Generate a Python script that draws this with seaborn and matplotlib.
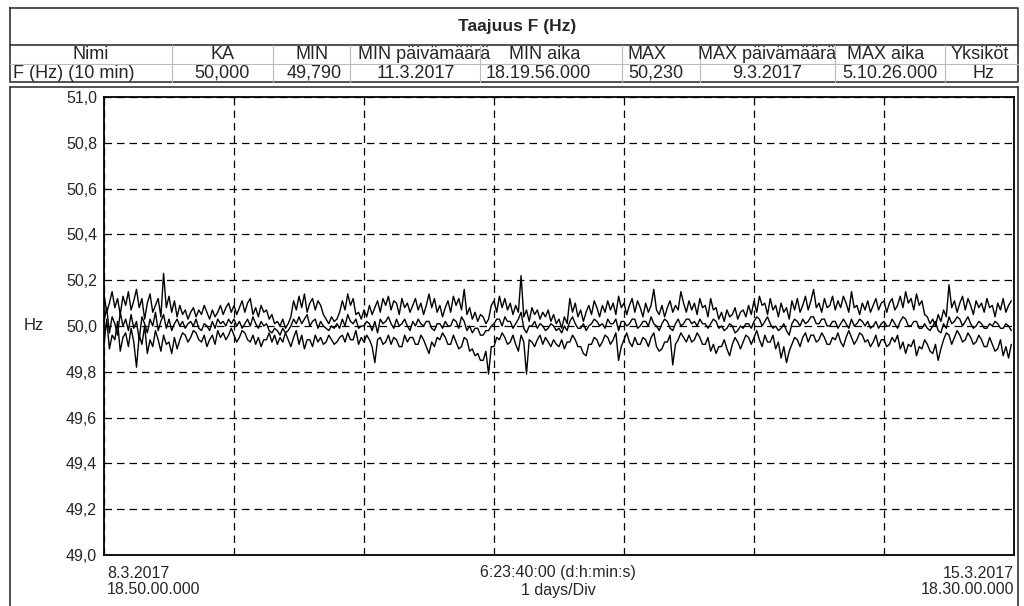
import numpy as np
import pandas as pd
import matplotlib
matplotlib.use("Agg")
import matplotlib.pyplot as plt
import seaborn as sns

# ---------------- data ----------------
title = "Taajuus F (Hz)"
table_headers = ["Nimi", "KA", "MIN", "MIN päivämäärä", "MIN aika", "MAX",
                 "MAX päivämäärä", "MAX aika", "Yksiköt"]
table_values = ["F (Hz) (10 min)", "50,000", "49,790", "11.3.2017", "18.19.56.000",
                "50,230", "9.3.2017", "5.10.26.000", "Hz"]

y_ticks = [49.0, 49.2, 49.4, 49.6, 49.8, 50.0, 50.2, 50.4, 50.6, 50.8, 51.0]
y_tick_labels = ["49,0", "49,2", "49,4", "49,6", "49,8", "50,0", "50,2", "50,4", "50,6", "50,8", "51,0"]
x_left_labels = ["8.3.2017", "18.50.00.000"]
x_mid_labels = ["6:23:40:00 (d:h:min:s)", "1 days/Div"]
x_right_labels = ["15.3.2017", "18.30.00.000"]
y_label = "Hz"

# half-hourly readings (Hz) from start 8.3.2017 18:50, three traces
f_a = [
    50.14, 50.06, 50.10, 50.15, 50.08, 50.12, 50.05, 50.13, 50.09, 50.15, 50.07, 50.11, 50.16, 50.08, 50.12, 50.03, 50.10, 50.14, 50.06, 50.09, 50.12, 50.04, 50.23, 50.08,
    50.13, 50.06, 50.11, 50.04, 50.09, 50.05, 50.07, 50.03, 50.06, 50.08, 50.04, 50.07, 50.05, 50.09, 50.06, 50.03, 50.07, 50.04, 50.06, 50.09, 50.05, 50.08, 50.10, 50.06,
    50.09, 50.05, 50.08, 50.11, 50.06, 50.10, 50.12, 50.05, 50.08, 50.04, 50.09, 50.06, 50.07, 50.03, 50.05, 50.01, 50.02, 50.00, 50.03, 49.99, 50.01, 50.04, 50.11, 50.07,
    50.13, 50.08, 50.14, 50.06, 50.10, 50.12, 50.07, 50.11, 50.09, 50.05, 50.03, 50.01, 50.04, 50.02, 50.03, 50.06, 50.11, 50.07, 50.14, 50.09, 50.12, 50.05, 50.06, 50.03,
    50.07, 50.04, 50.09, 50.05, 50.08, 50.11, 50.06, 50.12, 50.09, 50.13, 50.07, 50.11, 50.10, 50.05, 50.12, 50.08, 50.10, 50.06, 50.09, 50.12, 50.07, 50.10, 50.05, 50.09,
    50.14, 50.08, 50.12, 50.06, 50.09, 50.04, 50.08, 50.11, 50.06, 50.13, 50.09, 50.12, 50.07, 50.16, 50.05, 50.08, 50.03, 50.06, 50.02, 50.05, 50.04, 50.01, 50.03, 50.09,
    50.11, 50.06, 50.13, 50.08, 50.12, 50.07, 50.10, 50.05, 50.09, 50.06, 50.22, 50.04, 50.07, 50.02, 50.08, 50.05, 50.07, 50.03, 50.06, 50.04, 50.07, 50.02, 50.05, 50.01,
    50.03, 49.99, 50.04, 50.01, 50.12, 50.06, 50.10, 50.04, 50.07, 50.02, 50.06, 50.09, 50.05, 50.11, 50.08, 50.04, 50.09, 50.06, 50.11, 50.07, 50.10, 50.05, 50.13, 50.08,
    50.10, 50.05, 50.09, 50.12, 50.06, 50.11, 50.08, 50.04, 50.10, 50.06, 50.09, 50.16, 50.07, 50.05, 50.09, 50.04, 50.08, 50.11, 50.06, 50.09, 50.07, 50.15, 50.10, 50.06,
    50.11, 50.07, 50.10, 50.05, 50.12, 50.08, 50.09, 50.04, 50.12, 50.07, 50.08, 50.03, 50.06, 50.02, 50.07, 50.04, 50.05, 50.08, 50.03, 50.06, 50.07, 50.04, 50.09, 50.05,
    50.11, 50.06, 50.13, 50.09, 50.10, 50.05, 50.12, 50.07, 50.09, 50.04, 50.10, 50.06, 50.08, 50.03, 50.11, 50.07, 50.12, 50.06, 50.09, 50.13, 50.07, 50.11, 50.16, 50.08,
    50.10, 50.06, 50.12, 50.08, 50.09, 50.13, 50.07, 50.11, 50.08, 50.13, 50.10, 50.06, 50.15, 50.08, 50.09, 50.05, 50.10, 50.07, 50.11, 50.06, 50.09, 50.12, 50.07, 50.10,
    50.11, 50.06, 50.10, 50.12, 50.07, 50.09, 50.13, 50.08, 50.15, 50.10, 50.12, 50.07, 50.14, 50.09, 50.11, 50.05, 50.04, 50.01, 50.03, 50.00, 50.05, 50.02, 50.07, 50.04,
    50.18, 50.08, 50.11, 50.06, 50.10, 50.13, 50.07, 50.12, 50.09, 50.05, 50.11, 50.08, 50.10, 50.06, 50.12, 50.08, 50.09, 50.04, 50.10, 50.07, 50.12, 50.06, 50.09, 50.11,
]
f_b = [
    50.02, 50.08, 49.97, 50.04, 50.01, 49.96, 50.06, 50.00, 50.03, 49.98, 50.05, 49.99, 50.02, 49.94, 50.04, 50.01, 49.97, 50.03, 50.00, 50.06, 49.98, 50.02, 50.05, 49.99,
    50.03, 49.98, 50.01, 50.03, 50.00, 50.02, 49.99, 50.01, 50.02, 50.00, 50.03, 49.99, 49.98, 50.01, 50.00, 49.98, 50.02, 49.99, 50.03, 50.01, 50.02, 50.00, 50.03, 50.01,
    50.03, 50.00, 50.02, 49.99, 50.01, 50.03, 50.00, 50.04, 50.01, 49.99, 50.02, 50.00, 50.01, 49.98, 49.97, 49.99, 49.98, 49.96, 49.99, 49.97, 49.98, 50.00, 50.03, 50.01,
    50.04, 50.01, 50.03, 50.05, 50.00, 50.02, 50.03, 49.99, 50.02, 50.00, 49.99, 49.98, 50.00, 49.99, 50.01, 49.99, 50.03, 50.00, 50.05, 50.02, 50.01, 50.03, 49.99, 50.00,
    50.00, 50.02, 50.01, 49.98, 50.02, 49.97, 50.03, 50.01, 50.02, 50.04, 50.01, 49.99, 50.03, 50.00, 50.01, 50.03, 50.00, 49.98, 50.02, 50.00, 50.03, 50.01, 50.00, 50.02,
    50.02, 49.99, 49.98, 50.01, 50.01, 49.99, 50.02, 50.00, 50.00, 50.03, 50.02, 49.99, 50.04, 50.02, 49.98, 50.00, 49.97, 49.99, 49.99, 49.96, 49.96, 49.98, 49.98, 50.00,
    50.01, 50.03, 50.03, 50.00, 50.04, 50.02, 50.02, 49.99, 50.01, 50.03, 50.06, 49.99, 49.97, 50.00, 50.00, 50.02, 49.99, 50.01, 50.00, 49.98, 49.99, 50.01, 50.00, 49.98,
    49.99, 49.97, 50.00, 49.98, 50.02, 50.04, 50.01, 49.99, 49.99, 50.01, 49.98, 50.00, 50.01, 50.03, 50.02, 50.00, 50.01, 49.99, 50.03, 50.01, 50.01, 50.03, 49.98, 50.02,
    50.02, 50.00, 50.01, 50.03, 50.03, 49.99, 50.00, 50.02, 50.02, 50.00, 50.04, 50.01, 50.00, 49.98, 50.01, 50.03, 50.02, 49.99, 49.98, 50.01, 50.03, 50.00, 50.01, 50.03,
    50.03, 50.01, 50.02, 50.00, 50.03, 50.01, 50.01, 49.99, 50.01, 50.03, 50.02, 49.99, 50.00, 49.98, 49.99, 50.01, 50.00, 49.97, 49.98, 50.00, 49.99, 50.01, 50.01, 49.99,
    50.02, 50.04, 50.03, 50.00, 50.02, 50.04, 50.01, 49.99, 50.00, 49.98, 49.99, 50.01, 49.98, 49.96, 50.01, 50.03, 50.02, 50.00, 50.03, 50.01, 50.02, 50.04, 50.04, 50.01,
    50.01, 50.03, 50.03, 50.00, 50.00, 50.02, 50.02, 49.99, 50.01, 50.03, 50.01, 49.99, 50.03, 50.00, 50.01, 50.03, 50.02, 50.00, 50.02, 49.99, 50.00, 50.02, 49.99, 50.01,
    50.02, 50.00, 50.00, 50.03, 50.01, 49.99, 50.02, 50.04, 50.03, 50.00, 50.00, 50.02, 50.02, 49.99, 49.99, 50.01, 49.99, 49.98, 50.00, 50.02, 49.98, 49.97, 50.01, 49.99,
    50.04, 50.01, 50.02, 50.04, 50.03, 50.00, 50.02, 50.04, 50.01, 49.99, 50.00, 50.02, 50.01, 49.99, 49.99, 50.01, 50.00, 50.02, 50.01, 49.99, 49.99, 50.01, 50.00, 49.98,
]
f_c = [
    49.92, 50.03, 49.90, 49.96, 49.94, 50.02, 49.89, 49.95, 49.97, 49.91, 49.99, 49.93, 49.82, 49.96, 49.92, 50.00, 49.88, 49.94, 49.91, 49.98, 49.94, 49.89, 49.96, 49.92,
    49.93, 49.88, 49.95, 49.90, 49.94, 49.97, 49.96, 49.93, 49.95, 49.98, 49.97, 49.94, 49.93, 49.96, 49.91, 49.94, 49.96, 49.92, 49.98, 49.95, 49.97, 49.94, 49.96, 49.99,
    49.96, 49.93, 49.95, 49.98, 49.97, 49.94, 49.93, 49.96, 49.92, 49.95, 49.91, 49.94, 49.94, 49.97, 49.93, 49.96, 49.92, 49.95, 49.93, 49.97, 49.94, 49.91, 49.95, 49.98,
    49.92, 49.96, 49.90, 49.94, 49.94, 49.91, 49.96, 49.93, 49.95, 49.92, 49.93, 49.96, 49.94, 49.92, 49.93, 49.95, 49.96, 49.93, 49.97, 49.94, 49.94, 49.98, 49.92, 49.95,
    49.93, 49.96, 49.94, 49.91, 49.84, 49.94, 49.95, 49.92, 49.93, 49.96, 49.92, 49.95, 49.94, 49.91, 49.91, 49.96, 49.93, 49.95, 49.95, 49.92, 49.92, 49.96, 49.94, 49.91,
    49.88, 49.93, 49.91, 49.95, 49.94, 49.97, 49.95, 49.92, 49.92, 49.96, 49.93, 49.90, 49.91, 49.95, 49.94, 49.89, 49.90, 49.87, 49.88, 49.85, 49.85, 49.89, 49.79, 49.91,
    49.91, 49.95, 49.94, 49.97, 49.95, 49.92, 49.93, 49.96, 49.92, 49.89, 49.96, 49.93, 49.79, 49.94, 49.93, 49.91, 49.94, 49.96, 49.92, 49.95, 49.93, 49.91, 49.94, 49.92,
    49.91, 49.94, 49.90, 49.93, 49.93, 49.96, 49.94, 49.91, 49.91, 49.88, 49.87, 49.92, 49.92, 49.95, 49.94, 49.91, 49.93, 49.96, 49.95, 49.92, 49.94, 49.97, 49.85, 49.91,
    49.94, 49.97, 49.93, 49.91, 49.95, 49.92, 49.92, 49.95, 49.94, 49.91, 49.95, 49.97, 49.91, 49.89, 49.90, 49.93, 49.93, 49.96, 49.83, 49.92, 49.94, 49.97, 49.95, 49.93,
    49.96, 49.93, 49.94, 49.97, 49.95, 49.92, 49.92, 49.95, 49.89, 49.92, 49.88, 49.91, 49.91, 49.94, 49.90, 49.87, 49.92, 49.95, 49.93, 49.90, 49.93, 49.96, 49.95, 49.92,
    49.95, 49.98, 49.94, 49.91, 49.96, 49.93, 49.93, 49.96, 49.90, 49.93, 49.86, 49.91, 49.84, 49.89, 49.92, 49.95, 49.94, 49.91, 49.95, 49.97, 49.93, 49.96, 49.96, 49.93,
    49.94, 49.97, 49.95, 49.92, 49.92, 49.95, 49.94, 49.97, 49.93, 49.91, 49.95, 49.98, 49.95, 49.92, 49.94, 49.97, 49.96, 49.93, 49.94, 49.91, 49.93, 49.96, 49.91, 49.94,
    49.94, 49.91, 49.92, 49.95, 49.93, 49.96, 49.90, 49.93, 49.88, 49.92, 49.91, 49.94, 49.87, 49.91, 49.90, 49.94, 49.92, 49.89, 49.88, 49.92, 49.85, 49.90, 49.94, 49.97,
    49.96, 49.92, 49.95, 49.98, 49.96, 49.93, 49.94, 49.97, 49.95, 49.92, 49.93, 49.96, 49.94, 49.91, 49.91, 49.95, 49.92, 49.89, 49.90, 49.94, 49.87, 49.91, 49.86, 49.92,
]

# ---------------- figure ----------------
sns.set_style("white")
plt.rcParams["font.family"] = ["Liberation Sans", "DejaVu Sans"]

W, H = 1024, 606
fig = plt.figure(figsize=(W / 100, H / 100), dpi=100)

# background canvas in pixel coordinates for table and frame
bg = fig.add_axes([0, 0, 1, 1], zorder=0)
bg.set_xlim(0, W)
bg.set_ylim(H, 0)
bg.axis("off")

lc = "#333333"
# table frame
bg.plot([10, 1018, 1018, 10, 10], [8, 8, 82, 82, 8], color=lc, lw=1.2)
bg.plot([10, 1018], [45, 45], color=lc, lw=1.2)
bg.plot([10, 1018], [63.5, 63.5], color="#bbbbbb", lw=0.8)
for xs in [172, 273, 350, 480, 622, 700, 835, 945]:
    bg.plot([xs, xs], [45, 82], color="#bbbbbb", lw=0.8)
bg.text(517, 26.5, title, ha="center", va="center", fontsize=12.5, fontweight="bold")

hdr_x = [91, 222, 312, 424, 545, 647, 767, 886, 980]
val_x = [13, 222, 314, 416, 538, 656, 767, 890, 983]
for i, (h, v) in enumerate(zip(table_headers, table_values)):
    bg.text(hdr_x[i], 54.5, h, ha="center", va="center", fontsize=13)
    if i == 0:
        bg.text(val_x[i], 73, v, ha="left", va="center", fontsize=13)
    else:
        bg.text(val_x[i], 73, v, ha="center", va="center", fontsize=13)

# chart frame
bg.plot([10, 1018], [87, 87], color=lc, lw=1.2)
bg.plot([10, 10], [87, 606], color=lc, lw=1.2)
bg.plot([1018, 1018], [87, 606], color=lc, lw=1.2)

# ---------------- plot axes ----------------
ax_l, ax_r, ax_t, ax_b = 104, 1014, 97, 555
ax = fig.add_axes([ax_l / W, (H - ax_b) / H, (ax_r - ax_l) / W, (ax_b - ax_t) / H], zorder=1)
ax.patch.set_alpha(0)

steps = np.arange(len(f_b))
days = steps / 48.0
df = pd.DataFrame({"t": np.concatenate([days, days, days]),
                   "f": np.concatenate([f_a, f_b, f_c]),
                   "s": ["a"] * len(days) + ["b"] * len(days) + ["c"] * len(days)})
sns.lineplot(data=df, x="t", y="f", units="s", estimator=None, color="black",
             linewidth=1.0, ax=ax, legend=False)

ax.set_xlim(0, 7)
ax.set_ylim(49.0, 51.0)
ax.set_yticks(y_ticks)
ax.set_yticklabels(y_tick_labels, fontsize=11.5)
ax.set_xticks(np.arange(0, 8))
ax.set_xticklabels([])
ax.tick_params(axis="x", length=0)
ax.tick_params(axis="y", length=3, width=0.8, pad=2, color="black")
ax.grid(True, color="black", linestyle=(0, (6, 4)), linewidth=0.9)
for sp in ax.spines.values():
    sp.set_color("black")
    sp.set_linewidth(1.3)
ax.set_xlabel("")
ax.set_ylabel("")

# axis annotations (pixel coordinates on background)
fs = 11.5
bg.text(34, 326, y_label, ha="center", va="center", fontsize=12)
bg.text(107, 573, x_left_labels[0], ha="left", va="center", fontsize=fs)
bg.text(107, 590, x_left_labels[1], ha="left", va="center", fontsize=fs)
bg.text(558, 573, x_mid_labels[0], ha="center", va="center", fontsize=fs)
bg.text(558, 590, x_mid_labels[1], ha="center", va="center", fontsize=fs)
bg.text(1014, 573, x_right_labels[0], ha="right", va="center", fontsize=fs)
bg.text(1014, 590, x_right_labels[1], ha="right", va="center", fontsize=fs)

fig.savefig("out.png", dpi=100)
